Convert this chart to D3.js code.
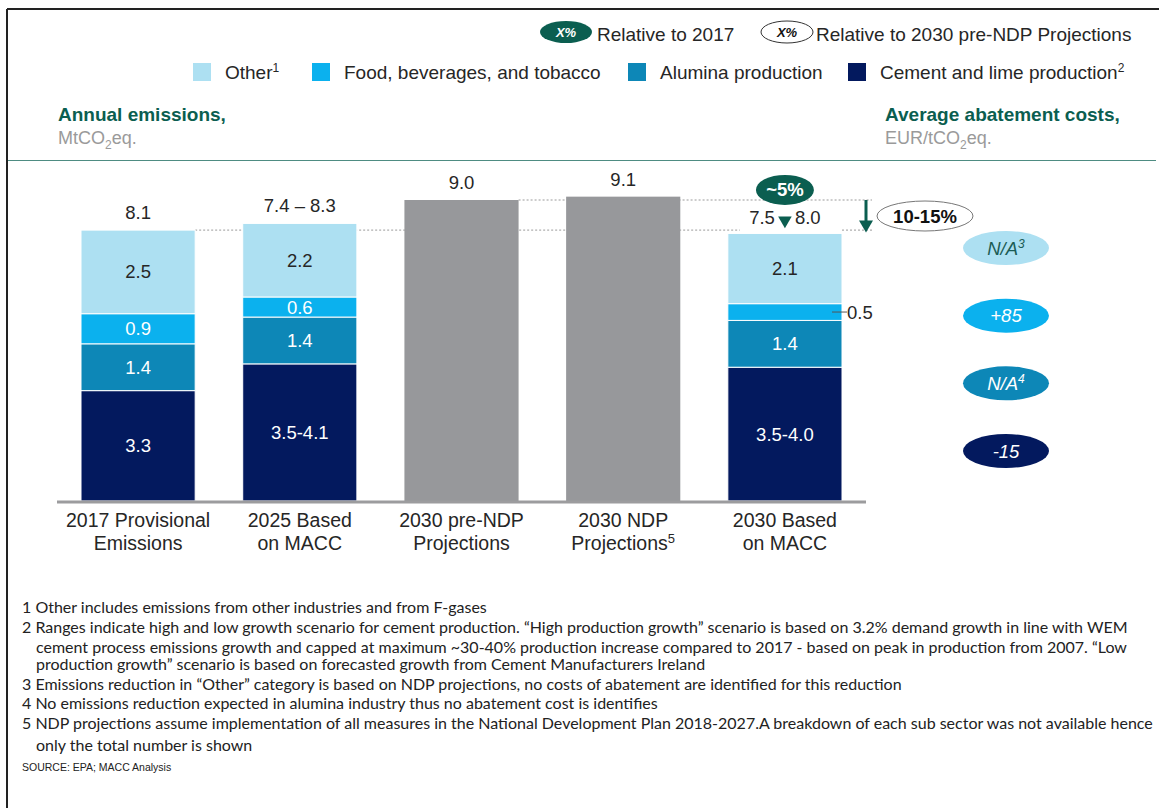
<!DOCTYPE html>
<meta charset="utf-8">
<style>
body { margin: 0; background: #fff; }
svg text { font-family: Arial, "Liberation Sans", sans-serif; }
.foot text { font-family: Lato, sans-serif; }
</style>
<body>
<svg width="1159" height="808"></svg>
</body>
<script src="https://cdn.jsdelivr.net/npm/d3@7"></script>
<script>

// ---- data ----
var categories = ["2017", "2025", "2030pre", "2030ndp", "2030macc"];
var catLines = [["2017 Provisional", "Emissions"], ["2025 Based", "on MACC"],
                ["2030 pre-NDP", "Projections"], ["2030 NDP", "Projections"], ["2030 Based", "on MACC"]];
var catSup = ["", "", "", "5", ""];
var cement  = [3.3, 4.1, 0, 0, 4.0];
var alumina = [1.4, 1.4, 0, 0, 1.4];
var food    = [0.9, 0.6, 0, 0, 0.5];
var other   = [2.5, 2.2, 0, 0, 2.1];
var totalOnly = [0, 0, 9.0, 9.1, 0];
var cementLabels = ["3.3", "3.5-4.1", null, null, "3.5-4.0"];
var totalLabels = ["8.1", "7.4 \u2013 8.3", "9.0", "9.1", null];
var seriesNames = ["Other", "Food, beverages, and tobacco", "Alumina production", "Cement and lime production"];
var seriesSup = ["1", "", "", "2"];
var abatement = ["N/A", "+85", "N/A", "-15"];
var abatementSup = ["3", "", "4", ""];
var footnotes = [
  "1 Other includes emissions from other industries and from F-gases",
  "2 Ranges indicate high and low growth scenario for cement production. \u201cHigh production growth\u201d scenario is based on 3.2% demand growth in line with WEM",
  "  cement process emissions growth and capped at maximum ~30-40% production increase compared to 2017 - based on peak in production from 2007. \u201cLow",
  "  production growth\u201d scenario is based on forecasted growth from Cement Manufacturers Ireland",
  "3 Emissions reduction in \u201cOther\u201d category is based on NDP projections, no costs of abatement are identified for this reduction",
  "4 No emissions reduction expected in alumina industry thus no abatement cost is identifies",
  "5 NDP projections assume implementation of all measures in the National Development Plan 2018-2027.A breakdown of each sub sector was not available hence",
  "  only the total number is shown"
];

var colors = { cement: "#03195e", alumina: "#0d87b7", food: "#0bb1ee", other: "#ade0f2" };
var green = "#0b5e50";
var textCol = "#262626";

var svg = d3.select("svg");

// frame
svg.append("line").attr("x1", 7).attr("x2", 1159).attr("y1", 9).attr("y2", 9)
  .attr("stroke", "#222").attr("stroke-width", 2);
svg.append("line").attr("x1", 7).attr("x2", 7).attr("y1", 9).attr("y2", 808)
  .attr("stroke", "#222").attr("stroke-width", 2);
svg.append("line").attr("x1", 8).attr("x2", 1156).attr("y1", 160.5).attr("y2", 160.5)
  .attr("stroke", "#4e8c82").attr("stroke-width", 1.2);

// ---- legends ----
var leg1 = svg.append("g");
leg1.append("ellipse").attr("cx", 566).attr("cy", 32).attr("rx", 26).attr("ry", 11).attr("fill", green);
leg1.append("text").attr("x", 566).attr("y", 37).attr("text-anchor", "middle").attr("fill", "#fff")
  .attr("font-size", 13).attr("font-style", "italic").attr("font-weight", "bold").text("X%");
leg1.append("text").attr("x", 597).attr("y", 41).attr("font-size", 19).attr("fill", textCol).text("Relative to 2017");
leg1.append("ellipse").attr("cx", 787).attr("cy", 32).attr("rx", 26).attr("ry", 11)
  .attr("fill", "#fff").attr("stroke", "#333").attr("stroke-width", 1);
leg1.append("text").attr("x", 787).attr("y", 37).attr("text-anchor", "middle").attr("fill", "#111")
  .attr("font-size", 13).attr("font-style", "italic").attr("font-weight", "bold").text("X%");
leg1.append("text").attr("x", 816).attr("y", 41).attr("font-size", 19).attr("fill", textCol).text("Relative to 2030 pre-NDP Projections");

var legX = [193, 312, 628, 848];
var legColors = [colors.other, colors.food, colors.alumina, colors.cement];
var leg2 = svg.append("g").selectAll("g").data(seriesNames).join("g")
  .attr("transform", function(d, i) { return "translate(" + legX[i] + ",63)"; });
leg2.append("rect").attr("width", 18).attr("height", 18).attr("fill", function(d, i) { return legColors[i]; });
var lt = leg2.append("text").attr("x", 32).attr("y", 16).attr("font-size", 19).attr("fill", textCol);
lt.append("tspan").text(function(d) { return d; });
lt.append("tspan").attr("dy", -7).attr("font-size", 12).text(function(d, i) { return seriesSup[i]; });

// headers
function header(x, title, unit, unitEnd) {
  svg.append("text").attr("x", x).attr("y", 121).attr("font-size", 19).attr("font-weight", "bold")
    .attr("fill", green).text(title);
  var t = svg.append("text").attr("x", x).attr("y", 144).attr("font-size", 18).attr("fill", "#9a9a9a");
  t.append("tspan").text(unit);
  t.append("tspan").attr("font-size", 12).attr("dy", 5).text("2");
  t.append("tspan").attr("dy", -5).text(unitEnd);
}
header(58, "Annual emissions,", "MtCO", "eq.");
header(885, "Average abatement costs,", "EUR/tCO", "eq.");

// ---- scales ----
var x = d3.scaleBand().domain(categories).range([81, 842]).paddingInner(0.294).paddingOuter(0);
var y = d3.scaleLinear().domain([0, 9]).range([501, 200]);

var rows = categories.map(function(c, i) {
  return { cat: c, cement: cement[i], alumina: alumina[i], food: food[i], other: other[i], total: totalOnly[i] };
});
var keys = ["cement", "alumina", "food", "other"];
var stacked = d3.stack().keys(keys)(rows);

// reference dashed lines (behind bars)
var refG = svg.append("g").attr("stroke", "#9a9a9a").attr("stroke-dasharray", "2,2").attr("stroke-width", 1);
var base2017 = d3.sum(keys, function(k) { return rows[0][k]; });
refG.append("line").attr("x1", x("2017") + x.bandwidth()).attr("x2", x("2030macc") + 12)
  .attr("y1", y(base2017)).attr("y2", y(base2017));
refG.append("line").attr("x1", x("2030macc") + x.bandwidth()).attr("x2", 872)
  .attr("y1", y(base2017)).attr("y2", y(base2017));
refG.append("line").attr("x1", x("2030pre") + x.bandwidth()).attr("x2", 872)
  .attr("y1", y(totalOnly[2])).attr("y2", y(totalOnly[2]));

// stacked bars
svg.append("g").selectAll("g").data(stacked).join("g")
    .attr("fill", function(d) { return colors[d.key]; })
  .selectAll("rect").data(function(d) { return d.filter(function(e) { return e[1] > e[0]; }); }).join("rect")
    .attr("x", function(d) { return x(d.data.cat); })
    .attr("width", x.bandwidth())
    .attr("y", function(d) { return y(d[1]); })
    .attr("height", function(d) { return y(d[0]) - y(d[1]); })
    .attr("stroke", "#fff").attr("stroke-width", 1);

// grey total bars
svg.append("g").selectAll("rect").data(rows.filter(function(r) { return r.total > 0; })).join("rect")
  .attr("x", function(d) { return x(d.cat); })
  .attr("width", x.bandwidth())
  .attr("y", function(d) { return y(d.total); })
  .attr("height", function(d) { return y(0) - y(d.total); })
  .attr("fill", "#97989b");

// baseline
svg.append("line").attr("x1", 57).attr("x2", 866).attr("y1", 502).attr("y2", 502)
  .attr("stroke", "#9c9c9e").attr("stroke-width", 3);

// segment labels
var segLabels = [];
stacked.forEach(function(s) {
  s.forEach(function(d, i) {
    if (d[1] <= d[0]) return;
    var txt = s.key === "cement" ? cementLabels[i] : d3.format(".1f")(d[1] - d[0]);
    segLabels.push({ key: s.key, i: i, cat: d.data.cat, y0: d[0], y1: d[1], text: txt });
  });
});
var inside = segLabels.filter(function(d) { return !(d.key === "food" && d.cat === "2030macc"); });
svg.append("g").selectAll("text").data(inside).join("text")
  .attr("x", function(d) { return x(d.cat) + x.bandwidth() / 2; })
  .attr("y", function(d) { return (y(d.y0) + y(d.y1)) / 2 + 6.5; })
  .attr("text-anchor", "middle").attr("font-size", 18.5)
  .attr("fill", function(d) { return d.key === "other" ? textCol : "#fff"; })
  .text(function(d) { return d.text; });
var outside = segLabels.filter(function(d) { return d.key === "food" && d.cat === "2030macc"; });
outside.forEach(function(d) {
  var ym = (y(d.y0) + y(d.y1)) / 2;
  svg.append("line").attr("x1", x(d.cat) + x.bandwidth() - 10).attr("x2", x(d.cat) + x.bandwidth() + 5)
    .attr("y1", ym).attr("y2", ym).attr("stroke", "#555").attr("stroke-width", 1);
  svg.append("text").attr("x", x(d.cat) + x.bandwidth() + 5).attr("y", ym + 6.5)
    .attr("font-size", 18.5).attr("fill", textCol).text(d.text);
});

// total labels
svg.append("g").selectAll("text").data(rows.filter(function(r, i) { return totalLabels[i]; })).join("text")
  .attr("x", function(d) { return x(d.cat) + x.bandwidth() / 2; })
  .attr("y", function(d) {
    var top = d.total > 0 ? d.total : d3.sum(keys, function(k) { return d[k]; });
    return y(top) - 11;
  })
  .attr("text-anchor", "middle").attr("font-size", 18.5).attr("fill", textCol)
  .text(function(d) { return totalLabels[categories.indexOf(d.cat)]; });

// 2030 MACC range label with triangle
var cx5 = x("2030macc") + x.bandwidth() / 2;
var top5 = y(d3.sum(keys, function(k) { return rows[4][k]; }));
svg.append("text").attr("x", cx5 - 10).attr("y", top5 - 9).attr("text-anchor", "end")
  .attr("font-size", 18.5).attr("fill", textCol).text("7.5");
svg.append("text").attr("x", cx5 + 10).attr("y", top5 - 9).attr("text-anchor", "start")
  .attr("font-size", 18.5).attr("fill", textCol).text("8.0");
svg.append("path").attr("d", d3.symbol(d3.symbolTriangle, 80)())
  .attr("transform", "translate(" + cx5 + "," + (top5 - 13) + ") rotate(180)").attr("fill", green);

// ~5% bubble
svg.append("ellipse").attr("cx", cx5).attr("cy", y(9.3)).attr("rx", 29).attr("ry", 15).attr("fill", green);
svg.append("text").attr("x", cx5).attr("y", y(9.3) + 6.5).attr("text-anchor", "middle").attr("fill", "#fff")
  .attr("font-size", 18.5).attr("font-weight", "bold").text("~5%");

// arrow pre-NDP -> 2030 MACC
var ax = 866;
svg.append("line").attr("x1", ax).attr("x2", ax).attr("y1", y(totalOnly[2])).attr("y2", top5 - 10)
  .attr("stroke", green).attr("stroke-width", 3);
svg.append("path").attr("d", "M" + (ax - 7) + "," + (top5 - 13) + "L" + (ax + 7) + "," + (top5 - 13) + "L" + ax + "," + (top5 - 1) + "Z")
  .attr("fill", green);
svg.append("ellipse").attr("cx", 925).attr("cy", 216).attr("rx", 48).attr("ry", 15)
  .attr("fill", "#fff").attr("stroke", "#777").attr("stroke-width", 1);
svg.append("text").attr("x", 925).attr("y", 222.5).attr("text-anchor", "middle").attr("fill", "#111")
  .attr("font-size", 18.5).attr("font-weight", "bold").text("10-15%");

// abatement cost bubbles
var ay = d3.scalePoint().domain(d3.range(abatement.length)).range([248, 451]);
var ab = svg.append("g").selectAll("g").data(abatement).join("g")
  .attr("transform", function(d, i) { return "translate(1006," + ay(i) + ")"; });
ab.append("ellipse").attr("rx", 43).attr("ry", 17).attr("fill", function(d, i) { return legColors[i]; });
var abt = ab.append("text").attr("y", 6.5).attr("text-anchor", "middle").attr("font-size", 18.5).attr("font-style", "italic")
  .attr("fill", function(d, i) { return i === 0 ? "#1b5c55" : "#fff"; });
abt.append("tspan").text(function(d) { return d; });
abt.append("tspan").attr("dy", -7).attr("font-size", 12).text(function(d, i) { return abatementSup[i]; });

// category labels
var xl = svg.append("g").selectAll("text").data(categories).join("text")
  .attr("text-anchor", "middle").attr("font-size", 19.5).attr("fill", textCol);
xl.append("tspan").attr("x", function(d) { return x(d) + x.bandwidth() / 2; }).attr("y", 527)
  .text(function(d, i) { return catLines[i][0]; });
var l2 = xl.append("tspan").attr("x", function(d) { return x(d) + x.bandwidth() / 2; }).attr("y", 550);
l2.append("tspan").text(function(d, i) { return catLines[i][1]; });
l2.append("tspan").attr("dy", -7).attr("font-size", 13).text(function(d, i) { return catSup[i]; });

// footnotes
var fy = [613, 633, 653, 670, 690, 709, 729, 751];
svg.append("g").attr("class", "foot").selectAll("text").data(footnotes).join("text")
  .attr("x", function(d) { return d.charAt(0) === " " ? 36 : 22; })
  .attr("y", function(d, i) { return fy[i]; })
  .attr("font-size", 16).attr("fill", "#222")
  .text(function(d) { return d.trim(); });
svg.append("text").attr("x", 22).attr("y", 771).attr("font-size", 10.5).attr("fill", "#222")
  .text("SOURCE: EPA; MACC Analysis");

</script>
